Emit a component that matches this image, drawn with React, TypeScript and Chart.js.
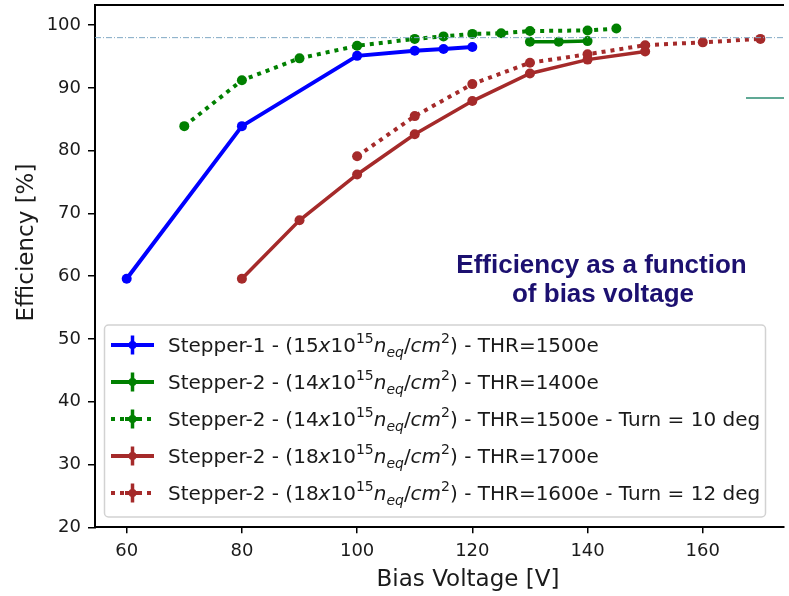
import React, { useEffect, useRef } from 'react';
import { Chart, registerables } from 'chart.js';

Chart.register(...registerables);

// ---- data ----
const blueX = [60, 80, 100, 110, 115, 120];
const blueY = [59.6, 83.9, 95.1, 95.9, 96.2, 96.5];

const greenSolidX = [130, 135, 140];
const greenSolidY = [97.35, 97.35, 97.45];

const greenDotX = [70, 80, 90, 100, 110, 115, 120, 125, 130, 140, 145];
const greenDotY = [83.9, 91.2, 94.7, 96.7, 97.8, 98.2, 98.6, 98.7, 99.05, 99.15, 99.45];

const redSolidX = [80, 90, 100, 110, 120, 130, 140, 150];
const redSolidY = [59.6, 68.9, 76.2, 82.6, 87.9, 92.3, 94.5, 95.8];

const redDotX = [100, 110, 120, 130, 140, 150, 160, 170];
const redDotY = [79.1, 85.5, 90.6, 94.0, 95.35, 96.8, 97.25, 97.8];

const refLineX = [54.5, 174.1];
const refLineY = [98, 98];

const stubX = [167.5, 175];
const stubY = [88.4, 88.4];

const xTicks = [60, 80, 100, 120, 140, 160];
const yTicks = [20, 30, 40, 50, 60, 70, 80, 90, 100];

const xTitle = 'Bias Voltage [V]';
const yTitle = 'Efficiency [%]';
const noteLines = ['Efficiency as a function', 'of bias voltage'];

const legendLabels = [
  'Stepper-1 - (15{i:x}10{sup:15}{i:n}{sub:eq}/{i:cm}{sup:2}) - THR=1500e',
  'Stepper-2 - (14{i:x}10{sup:15}{i:n}{sub:eq}/{i:cm}{sup:2}) - THR=1400e',
  'Stepper-2 - (14{i:x}10{sup:15}{i:n}{sub:eq}/{i:cm}{sup:2}) - THR=1500e - Turn = 10 deg',
  'Stepper-2 - (18{i:x}10{sup:15}{i:n}{sub:eq}/{i:cm}{sup:2}) - THR=1700e',
  'Stepper-2 - (18{i:x}10{sup:15}{i:n}{sub:eq}/{i:cm}{sup:2}) - THR=1600e - Turn = 12 deg',
];
const legendColors = ['#0000ff', '#008000', '#008000', '#a52a2a', '#a52a2a'];
const legendDotted = [false, false, true, false, true];

const pts = (xs: number[], ys: number[]) => xs.map((x, i) => ({ x, y: ys[i] }));

const FONT = "'DejaVu Sans', 'Noto Sans', sans-serif";

function parseRich(s: string) {
  const out: { t: string; k: string }[] = [];
  const re = /\{(i|sup|sub):([^}]*)\}/g;
  let last = 0;
  let m: RegExpExecArray | null;
  while ((m = re.exec(s)) !== null) {
    if (m.index > last) out.push({ t: s.slice(last, m.index), k: 'n' });
    out.push({ t: m[2], k: m[1] });
    last = re.lastIndex;
  }
  if (last < s.length) out.push({ t: s.slice(last), k: 'n' });
  return out;
}

function drawRich(ctx: CanvasRenderingContext2D, s: string, x: number, cy: number, size: number) {
  const base = cy + size * 0.36;
  let cx = x;
  for (const seg of parseRich(s)) {
    let font = `${size}px ${FONT}`;
    let y = base;
    if (seg.k === 'i') font = `italic ${size}px ${FONT}`;
    if (seg.k === 'sup') {
      font = `${size * 0.7}px ${FONT}`;
      y = base - size * 0.45;
    }
    if (seg.k === 'sub') {
      font = `italic ${size * 0.7}px ${FONT}`;
      y = base + size * 0.22;
    }
    ctx.font = font;
    ctx.fillText(seg.t, cx, y);
    cx += ctx.measureText(seg.t).width;
  }
}

const overlayPlugin = {
  id: 'overlay',
  afterDraw(chart: any) {
    const ctx: CanvasRenderingContext2D = chart.ctx;
    const a = chart.chartArea;
    ctx.save();
    // top spine
    ctx.strokeStyle = '#000';
    ctx.lineWidth = 2;
    ctx.beginPath();
    ctx.moveTo(a.left - 1, a.top);
    ctx.lineTo(a.right, a.top);
    ctx.stroke();

    // axis titles
    ctx.fillStyle = '#1a1a1a';
    ctx.font = `23px ${FONT}`;
    ctx.textAlign = 'center';
    ctx.textBaseline = 'middle';
    ctx.fillText(xTitle, 468, 580);
    ctx.save();
    ctx.translate(27, 242.5);
    ctx.rotate(-Math.PI / 2);
    ctx.fillText(yTitle, 0, 0);
    ctx.restore();

    // annotation text
    ctx.fillStyle = '#1c1070';
    ctx.font = `bold 26px 'Liberation Sans', Arial, sans-serif`;
    ctx.fillText(noteLines[0], 601.5, 266);
    ctx.fillText(noteLines[1], 603, 295);

    // legend box
    const bx = 104.5, by = 325, bw = 661, bh = 192;
    ctx.beginPath();
    (ctx as any).roundRect(bx, by, bw, bh, 4);
    ctx.fillStyle = 'rgba(255,255,255,0.85)';
    ctx.fill();
    ctx.strokeStyle = '#d2d2d2';
    ctx.lineWidth = 1.5;
    ctx.stroke();

    ctx.textAlign = 'left';
    ctx.textBaseline = 'alphabetic';
    legendLabels.forEach((lab, i) => {
      const cy = 345 + i * 37;
      const col = legendColors[i];
      ctx.strokeStyle = col;
      ctx.fillStyle = col;
      ctx.lineWidth = 4;
      ctx.lineCap = 'butt';
      ctx.setLineDash(legendDotted[i] ? [4, 5] : []);
      ctx.beginPath();
      ctx.moveTo(111, cy);
      ctx.lineTo(154, cy);
      ctx.stroke();
      ctx.setLineDash([]);
      if (legendDotted[i]) {
        ctx.beginPath();
        ctx.moveTo(125, cy);
        ctx.lineTo(141, cy);
        ctx.stroke();
      }
      ctx.lineWidth = 3.5;
      ctx.beginPath();
      ctx.moveTo(132.5, cy - 9.5);
      ctx.lineTo(132.5, cy + 9.5);
      ctx.stroke();
      ctx.beginPath();
      ctx.arc(132.5, cy, 4, 0, Math.PI * 2);
      ctx.fill();
      ctx.fillStyle = '#1a1a1a';
      drawRich(ctx, lab, 168, cy, 20);
    });
    ctx.restore();
  },
};

export default function App() {
  const ref = useRef<HTMLCanvasElement | null>(null);
  useEffect(() => {
    if (!ref.current) return;
    const common = { pointRadius: 5, pointHoverRadius: 5, pointBorderWidth: 0, borderWidth: 3.5, tension: 0 };
    const chart = new Chart(ref.current, {
      type: 'line',
      data: {
        datasets: [
          {
            data: pts(refLineX, refLineY),
            borderColor: '#7fa8c4',
            borderWidth: 1,
            borderDash: [6, 2, 1, 2],
            pointRadius: 0,
          },
          {
            data: pts(stubX, stubY),
            borderColor: '#2b8c72',
            borderWidth: 1.5,
            pointRadius: 0,
          },
          { ...common, data: pts(greenDotX, greenDotY), borderColor: '#008000', backgroundColor: '#008000', pointBackgroundColor: '#008000', borderDash: [4, 5], borderWidth: 4 },
          { ...common, data: pts(redDotX, redDotY), borderColor: '#a52a2a', backgroundColor: '#a52a2a', pointBackgroundColor: '#a52a2a', borderDash: [4, 5], borderWidth: 4 },
          { ...common, data: pts(redSolidX, redSolidY), borderColor: '#a52a2a', backgroundColor: '#a52a2a', pointBackgroundColor: '#a52a2a' },
          { ...common, data: pts(greenSolidX, greenSolidY), borderColor: '#008000', backgroundColor: '#008000', pointBackgroundColor: '#008000' },
          { ...common, data: pts(blueX, blueY), borderColor: '#0000ff', backgroundColor: '#0000ff', pointBackgroundColor: '#0000ff', borderWidth: 4 },
        ] as any,
      },
      options: {
        animation: false,
        responsive: false,
        maintainAspectRatio: false,
        layout: { padding: { top: 3.3, left: 0, right: 0, bottom: 0 } },
        plugins: { legend: { display: false }, tooltip: { enabled: false }, title: { display: false } },
        scales: {
          x: {
            type: 'linear',
            min: refLineX[0],
            max: refLineX[1],
            afterBuildTicks: (s: any) => {
              s.ticks = xTicks.map((v) => ({ value: v }));
            },
            afterFit: (s: any) => {
              s.height = 68.7;
              s.paddingLeft = 0;
              s.paddingRight = 0;
            },
            grid: { drawOnChartArea: false, drawTicks: true, tickLength: 6, color: '#000', lineWidth: 1.5 },
            border: { display: true, color: '#000', width: 2 },
            ticks: { font: { family: FONT, size: 18 }, color: '#1a1a1a', padding: 7, maxRotation: 0 },
          },
          y: {
            type: 'linear',
            min: 20,
            max: 103.2,
            afterBuildTicks: (s: any) => {
              s.ticks = yTicks.map((v) => ({ value: v }));
            },
            afterFit: (s: any) => {
              s.width = 95;
              s.paddingTop = 0;
              s.paddingBottom = 0;
            },
            grid: { drawOnChartArea: false, drawTicks: true, tickLength: 7, color: '#000', lineWidth: 1.5 },
            border: { display: true, color: '#000', width: 2 },
            ticks: { font: { family: FONT, size: 18 }, color: '#1a1a1a', padding: 7 },
          },
        },
      } as any,
      plugins: [overlayPlugin],
    });
    return () => chart.destroy();
  }, []);
  return (
    <div style={{ position: 'absolute', left: 0, top: 0, width: 789, height: 596, background: '#fff' }}>
      <canvas ref={ref} width={789} height={596} style={{ display: 'block', width: 789, height: 596 }} />
    </div>
  );
}
